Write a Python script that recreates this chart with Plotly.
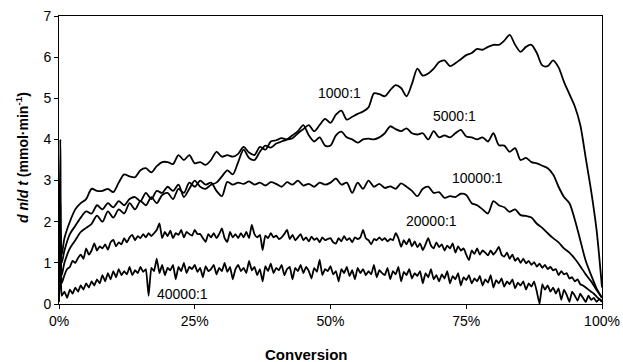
import numpy as np
import plotly.graph_objects as go

# Conversion grid (%) for the smoother series and the noisier series
conv_coarse = [0, 0.25, 0.5] + list(range(1, 101))
conv_fine = [0, 0.25] + list(np.arange(0.5, 100.01, 0.5))

rate_1000 = [0.4, 4.0, 1.2,
    1.6, 2.0, 2.3, 2.45, 2.55, 2.8, 2.75, 2.75, 2.8, 2.72,
    2.95, 3.15, 3.1, 3.08, 3.25, 3.3, 3.2, 3.35, 3.45, 3.45,
    3.4, 3.62, 3.5, 3.62, 3.42, 3.45, 3.38, 3.5, 3.7, 3.58,
    3.62, 3.58, 3.65, 3.82, 3.68, 3.62, 3.82, 3.75, 3.95, 3.98,
    4.03, 4.0, 4.03, 4.15, 4.25, 4.35, 4.2, 4.35, 4.5, 4.4,
    4.6, 4.7, 4.48, 4.55, 4.62, 4.68, 4.78, 5.12, 5.1, 5.05,
    5.2, 5.32, 5.25, 5.05, 5.35, 5.72, 5.55, 5.6, 5.72, 5.88,
    5.92, 5.78, 5.85, 5.95, 6.05, 6.1, 6.2, 6.18, 6.25, 6.3,
    6.3, 6.4, 6.54, 6.3, 6.13, 6.25, 6.3, 6.1, 5.8, 5.78,
    5.92, 5.75, 5.4, 5.1, 4.8, 4.35, 3.55, 2.75, 1.8, 0.4]

rate_5000 = [0.3, 2.6, 1.0,
    1.3, 1.7, 1.9, 2.1, 2.25, 2.2, 2.4, 2.3, 2.45, 2.35,
    2.5, 2.4, 2.55, 2.6, 2.5, 2.7, 2.55, 2.75, 2.7, 2.85,
    2.75, 2.9, 2.6, 2.8, 3.0, 2.85, 2.8, 2.9, 2.95, 3.1,
    3.25, 3.15, 3.45, 3.75, 3.55, 3.5, 3.7, 3.85, 3.8, 3.9,
    3.95, 4.0, 4.1, 4.2, 4.35, 4.1, 3.95, 4.05, 3.85, 3.85,
    4.1, 4.19, 4.05, 4.0, 3.92, 4.0, 4.02, 4.0, 4.05, 4.15,
    4.32, 4.25, 4.2, 4.27, 4.15, 4.12, 4.15, 4.0, 4.2, 4.05,
    4.1, 4.05, 4.15, 4.23, 4.07, 4.05, 4.0, 4.05, 3.95, 4.15,
    3.86, 3.85, 3.7, 3.79, 3.5, 3.55, 3.45, 3.42, 3.36, 3.3,
    3.15, 2.85, 2.6, 2.45, 2.05, 1.55, 1.05, 0.7, 0.38, 0.15]

rate_10000 = [0.2, 1.8, 0.7,
    1.0, 1.35, 1.55, 1.75, 1.85, 1.95, 2.15, 2.0, 2.25, 2.1,
    2.3, 2.2, 2.45, 2.3, 2.5, 2.4, 2.6, 2.45, 2.65, 2.7,
    2.55, 2.8, 2.7, 2.95, 2.85, 3.0, 2.9, 2.95, 2.75, 2.62,
    2.97, 2.9, 2.95, 2.92, 2.98, 2.9, 2.95, 2.88, 2.96, 2.92,
    2.85, 2.96, 2.9, 3.0, 2.88, 2.92, 2.85, 2.95, 2.9, 2.95,
    3.05, 2.9, 2.95, 2.7, 2.95, 2.8, 3.0, 2.85, 2.92, 2.82,
    2.86, 2.8, 2.93, 2.85, 2.75, 2.62, 2.8, 2.85, 2.7, 2.72,
    2.58, 2.62, 2.6, 2.68, 2.65, 2.45, 2.4, 2.3, 2.2, 2.5,
    2.4, 2.35, 2.24, 2.3, 2.16, 2.14, 2.1, 1.95, 1.85, 1.72,
    1.6, 1.5, 1.35, 1.25, 1.1, 0.92, 0.72, 0.55, 0.34, 0.15]

rate_20000 = [0.1, 1.9, 0.5,
    0.7, 0.85, 0.9, 1.05, 1.0, 1.12, 1.2, 1.1, 1.35, 1.2,
    1.3, 1.47, 1.3, 1.4, 1.35, 1.45, 1.32, 1.5, 1.56, 1.4,
    1.5, 1.45, 1.6, 1.5, 1.62, 1.68, 1.55, 1.65, 1.6, 1.7,
    1.62, 1.72, 1.65, 1.72, 1.8, 1.96, 1.6, 1.75, 1.65, 1.78,
    1.6, 1.72, 1.68, 1.8, 1.62, 1.75, 1.7, 1.66, 1.8, 1.7,
    1.7, 1.6, 1.51, 1.7, 1.62, 1.72, 1.6, 1.7, 1.84, 1.6,
    1.51, 1.75, 1.62, 1.7, 1.6, 1.72, 1.62, 1.75, 1.6, 1.92,
    1.7, 1.62, 1.68, 1.31, 1.66, 1.6, 1.72, 1.62, 1.66, 1.58,
    1.62, 1.7, 1.8, 1.58, 1.68, 1.55, 1.62, 1.7, 1.55, 1.62,
    1.52, 1.64, 1.56, 1.6, 1.5, 1.62, 1.55, 1.58, 1.6, 1.5,
    1.47, 1.6, 1.52, 1.65, 1.55, 1.6, 1.5, 1.62, 1.58, 1.62,
    1.8, 1.6, 1.55, 1.45, 1.58, 1.55, 1.62, 1.55, 1.6, 1.52,
    1.58, 1.55, 1.72, 1.6, 1.39, 1.55, 1.45, 1.58, 1.4, 1.52,
    1.38, 1.47, 1.31, 1.45, 1.6, 1.42, 1.35, 1.5, 1.38, 1.45,
    1.3, 1.42, 1.35, 1.47, 1.25, 1.4, 1.3, 1.35, 1.2, 1.07,
    1.3, 1.22, 1.35, 1.2, 1.3, 1.25, 1.18, 1.3, 1.2, 1.28,
    1.39, 1.2, 1.15, 1.25, 1.1, 1.2, 1.05, 1.12, 1.0, 1.1,
    0.99, 1.05, 0.95, 1.02, 0.91, 0.98, 0.88, 0.95, 0.85, 0.9,
    0.82, 0.85, 0.7, 0.8, 0.72, 0.75, 0.62, 0.65, 0.55, 0.6,
    0.48, 0.45, 0.4, 0.35, 0.3, 0.25, 0.18, 0.12, 0.08]

rate_40000 = [0.05, 0.9, 0.2,
    0.3, 0.15, 0.35, 0.25, 0.4, 0.3, 0.45, 0.35, 0.5, 0.4,
    0.55, 0.45, 0.6, 0.5, 0.7, 0.55, 0.75, 0.6, 0.8, 0.65,
    0.85, 0.7, 0.8, 0.72, 0.9, 0.7, 0.82, 0.75, 0.9, 0.78,
    0.85, 0.2, 0.88, 0.8, 1.1, 0.75, 0.95, 0.7, 0.88, 0.82,
    0.95, 0.6, 0.9, 0.8, 1.0, 0.75, 0.9, 0.85, 0.95, 0.78,
    0.88, 0.65, 0.92, 0.8, 0.85, 0.95, 0.72, 0.88, 0.8, 1.0,
    0.78, 0.9, 0.6, 0.85, 0.95, 0.8, 0.88, 0.75, 1.05, 0.82,
    0.9, 0.7, 0.85, 0.55, 0.92, 0.8, 0.98, 0.75, 0.88, 0.82,
    0.95, 0.7, 0.85, 0.9, 0.6, 0.88, 0.8, 0.95, 0.75, 0.9,
    0.8, 0.62, 0.88, 0.78, 1.08, 0.7, 0.85, 0.8, 0.92, 0.72,
    0.8, 0.55, 0.85, 0.75, 0.9, 0.68, 0.82, 0.6, 0.88, 0.75,
    0.85, 0.7, 0.8, 0.72, 0.95, 0.65, 0.82, 0.75, 0.7, 0.88,
    0.6, 0.8, 0.72, 0.9, 0.55, 0.78, 0.7, 0.85, 0.62, 0.75,
    0.68, 0.8, 0.5, 0.75, 0.65, 0.85, 0.6, 0.7, 0.55, 0.72,
    0.62, 0.8, 0.5, 0.68, 0.6, 0.75, 0.45, 0.65, 0.58, 0.7,
    0.5, 0.62, 0.55, 0.68, 0.45, 0.6, 0.52, 0.7, 0.4, 0.58,
    0.5, 0.62, 0.42, 0.55, 0.48, 0.6, 0.38, 0.52, 0.45, 0.55,
    0.35, 0.5, 0.42, 0.55, 0.3, 0.0, 0.48, 0.35, 0.45, 0.3,
    0.4, 0.25, 0.38, 0.1, 0.35, 0.22, 0.05, 0.3, 0.2, 0.08,
    0.25, 0.15, 0.05, 0.2, 0.1, 0.15, 0.05, 0.12, 0.05]

series_labels = ["1000:1", "5000:1", "10000:1", "20000:1", "40000:1"]
label_x = [51.7, 72.9, 77.0, 68.6, 22.8]
label_y = [5.14, 4.57, 3.06, 2.02, 0.24]

FONT = "Liberation Sans, Arial, sans-serif"

fig = go.Figure()
for xs, ys, name, sm in [
    (conv_coarse, rate_1000, series_labels[0], 0.8),
    (conv_coarse, rate_5000, series_labels[1], 0.8),
    (conv_coarse, rate_10000, series_labels[2], 0.8),
    (conv_fine, rate_20000, series_labels[3], 0.5),
    (conv_fine, rate_40000, series_labels[4], 0.3),
]:
    fig.add_trace(go.Scatter(x=xs, y=ys, mode="lines", name=name,
                             line=dict(color="black", width=1.8,
                                       shape="spline", smoothing=sm),
                             showlegend=False, hoverinfo="skip"))

for t, xv, yv in zip(series_labels, label_x, label_y):
    fig.add_annotation(x=xv, y=yv, text=t, showarrow=False,
                       font=dict(family=FONT, size=14, color="black"),
                       xanchor="center", yanchor="middle")

fig.add_annotation(xref="paper", yref="paper", x=-0.068, y=0.507,
                   text="<b><i>d</i> <i>n</i>/<i>d</i> <i>t</i> (mmol·min<sup>-1</sup>)</b>",
                   textangle=-90, showarrow=False,
                   font=dict(family=FONT, size=14, color="black"),
                   xanchor="center", yanchor="middle")
fig.add_annotation(xref="paper", yref="paper", x=0.455, y=-0.174,
                   text="<b>Conversion</b>", showarrow=False,
                   font=dict(family=FONT, size=15, color="black"),
                   xanchor="center", yanchor="middle")

fig.update_layout(
    width=623, height=362,
    margin=dict(l=59, r=21, t=16, b=58, autoexpand=False),
    paper_bgcolor="white", plot_bgcolor="white",
    font=dict(family=FONT, size=14, color="black"),
    xaxis=dict(range=[0, 100], tickvals=[0, 25, 50, 75, 100],
               ticktext=["0%", "25%", "50%", "75%", "100%"],
               showgrid=False, zeroline=False, showline=True,
               linecolor="black", linewidth=1, mirror=True,
               ticks="outside", ticklen=4, tickcolor="black",
               tickfont=dict(family=FONT, size=14, color="black")),
    yaxis=dict(range=[0, 7], dtick=1, showgrid=False, zeroline=False,
               showline=True, linecolor="black", linewidth=1, mirror=True,
               ticks="outside", ticklen=4, tickcolor="black",
               tickfont=dict(family=FONT, size=14, color="black")),
)

fig.write_html("out.html", config={"displayModeBar": False},
               post_script="document.body.style.margin='0';document.body.style.overflow='hidden';")
